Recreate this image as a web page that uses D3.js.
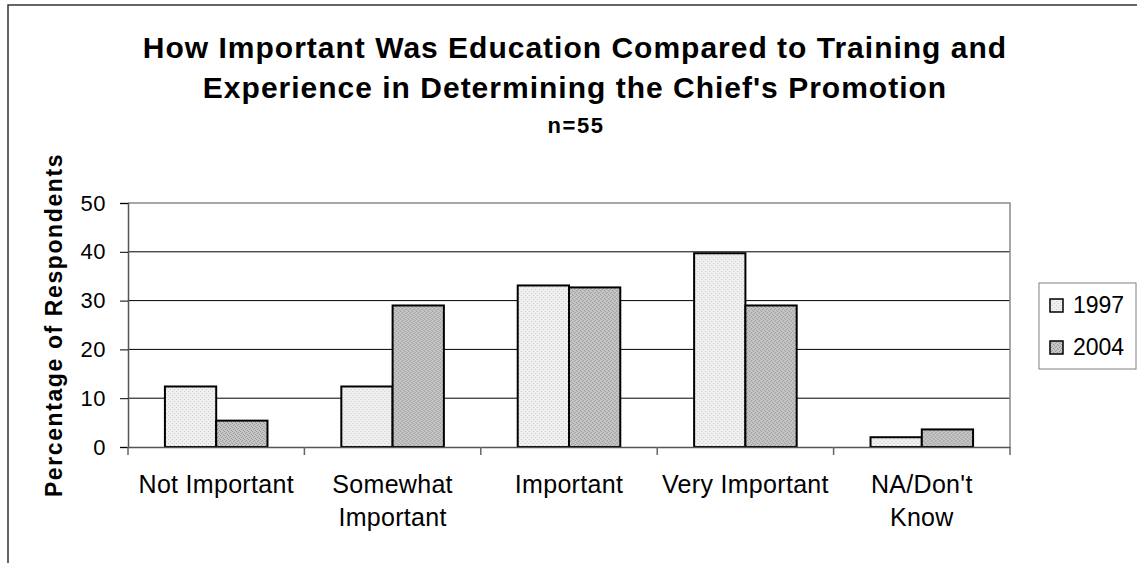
<!DOCTYPE html>
<html>
<head>
<meta charset="utf-8">
<script src="https://cdn.jsdelivr.net/npm/d3@7/dist/d3.min.js"></script>
<style>
  body { margin: 0; background: #fff; }
  svg { display: block; font-family: "Liberation Sans", Arial, sans-serif; }
</style>
</head>
<body>
<svg id="chart" width="1137" height="563"></svg>
<script>
// chart data
const categories = ["Not Important", "Somewhat Important", "Important", "Very Important", "NA/Don't Know"];
const tickLabels = [["Not Important"], ["Somewhat", "Important"], ["Important"], ["Very Important"], ["NA/Don't", "Know"]];
const seriesNames = ["1997", "2004"];
const values1997 = [12.4, 12.4, 33.1, 39.7, 2.0];
const values2004 = [5.4, 29.0, 32.7, 29.0, 3.6];
const yTicks = [0, 10, 20, 30, 40, 50];
const titleLines = ["How Important Was Education Compared to Training and",
                    "Experience in Determining the Chief's Promotion"];
const subtitle = "n=55";
const yTitle = "Percentage of Respondents";

const rows = categories.map((c, i) => ({ name: c, values: [values1997[i], values2004[i]] }));

const svg = d3.select("#chart");
const margin = { top: 203, left: 128, right: 127, bottom: 116 };
const W = 1137, H = 563;
const innerW = W - margin.left - margin.right;
const innerH = H - margin.top - margin.bottom;

// fill textures
const defs = svg.append("defs");
function stipple(id, bg, dot, cells) {
  const p = defs.append("pattern")
    .attr("id", id)
    .attr("patternUnits", "userSpaceOnUse")
    .attr("width", 4).attr("height", 4);
  p.append("rect").attr("width", 4).attr("height", 4).attr("fill", bg);
  cells.forEach(c => p.append("rect").attr("x", c[0]).attr("y", c[1])
    .attr("width", 1).attr("height", 1).attr("fill", dot));
}
stipple("fill1997", "#efefef", "#cdcdcd", [[0, 0], [2, 2]]);
stipple("fill2004", "#c6c6c6", "#989898", [[0, 0], [2, 1], [1, 2], [3, 3]]);
const fills = ["url(#fill1997)", "url(#fill2004)"];

// outer chart frame (only top/left visible in view)
svg.append("rect")
  .attr("x", 8).attr("y", 5)
  .attr("width", W + 20).attr("height", H + 20)
  .attr("fill", "none").attr("stroke", "#333").attr("stroke-width", 1.5);

// title
svg.append("g")
  .selectAll("text")
  .data(titleLines)
  .join("text")
  .attr("x", 575)
  .attr("y", (d, i) => 58 + i * 40)
  .attr("text-anchor", "middle")
  .attr("font-size", 30)
  .attr("letter-spacing", 1)
  .attr("font-weight", "bold")
  .text(d => d);

svg.append("text")
  .attr("x", 576).attr("y", 133)
  .attr("text-anchor", "middle")
  .attr("font-size", 22)
  .attr("letter-spacing", 1.5)
  .attr("font-weight", "bold")
  .text(subtitle);

const g = svg.append("g").attr("transform", `translate(${margin.left},${margin.top})`);

const x = d3.scaleBand().domain(categories).range([0, innerW]).padding(0);
const xs = d3.scaleBand().domain(seriesNames).range([0, x.bandwidth()]).paddingInner(0).paddingOuter(0.72);
const y = d3.scaleLinear().domain([0, 50]).range([innerH, 0]);

// gridlines
g.append("g")
  .selectAll("line")
  .data(yTicks.filter(t => t > 0 && t < 50))
  .join("line")
  .attr("x1", 0).attr("x2", innerW)
  .attr("y1", d => y(d)).attr("y2", d => y(d))
  .attr("stroke", "#000").attr("stroke-width", 1);

// plot area border top/right
g.append("path")
  .attr("d", `M0,0H${innerW}V${innerH}`)
  .attr("fill", "none").attr("stroke", "#8a8a8a").attr("stroke-width", 1.5);

// y axis
const yAxis = g.append("g")
  .call(d3.axisLeft(y).tickValues(yTicks).tickSize(8).tickPadding(14));
yAxis.select(".domain").attr("stroke", "#555").attr("stroke-width", 1.5);
yAxis.selectAll(".tick line").attr("stroke", "#000");
yAxis.selectAll("text")
  .attr("font-size", 22)
  .attr("letter-spacing", 0.5)
  .attr("font-family", "Liberation Sans, Arial, sans-serif")
  .attr("fill", "#000");

// bars
const groups = g.append("g")
  .selectAll("g")
  .data(rows)
  .join("g")
  .attr("transform", d => `translate(${x(d.name)},0)`);

groups.selectAll("rect")
  .data(d => d.values.map((v, i) => ({ key: seriesNames[i], value: v, i })))
  .join("rect")
  .attr("x", d => xs(d.key))
  .attr("y", d => y(d.value))
  .attr("width", xs.bandwidth())
  .attr("height", d => innerH - y(d.value))
  .attr("fill", d => fills[d.i])
  .attr("stroke", "#000")
  .attr("stroke-width", 2);

// x axis
const xAxis = g.append("g")
  .attr("transform", `translate(0,${innerH})`)
  .call(d3.axisBottom(x).tickSize(0).tickPadding(28));
xAxis.select(".domain").attr("stroke", "#555").attr("stroke-width", 1.5);
xAxis.selectAll("text")
  .attr("font-size", 25)
  .attr("letter-spacing", 0.3)
  .attr("font-family", "Liberation Sans, Arial, sans-serif")
  .attr("fill", "#000")
  .each(function (d, i) {
    const t = d3.select(this);
    const yy = t.attr("y");
    t.text(null)
      .selectAll("tspan")
      .data(tickLabels[i])
      .join("tspan")
      .attr("x", 0)
      .attr("y", yy)
      .attr("dy", (s, k) => (0.71 + k * 1.32) + "em")
      .text(s => s);
  });

// boundary ticks
g.append("g")
  .selectAll("line")
  .data(categories.map(c => x(c)).concat([innerW]))
  .join("line")
  .attr("x1", d => d).attr("x2", d => d)
  .attr("y1", innerH).attr("y2", innerH + 8)
  .attr("stroke", "#666").attr("stroke-width", 1.5);

// y axis title
svg.append("text")
  .attr("transform", `translate(62,${margin.top + innerH / 2}) rotate(-90)`)
  .attr("text-anchor", "middle")
  .attr("font-size", 23)
  .attr("letter-spacing", 1.6)
  .attr("font-weight", "bold")
  .text(yTitle);

// legend
const legend = svg.append("g").attr("transform", "translate(1039,283)");
legend.append("rect")
  .attr("width", 97).attr("height", 86)
  .attr("fill", "#fff").attr("stroke", "#808080").attr("stroke-width", 1);
const li = legend.selectAll("g")
  .data(seriesNames)
  .join("g")
  .attr("transform", (d, i) => `translate(11,${16 + i * 42})`);
li.append("rect")
  .attr("width", 13).attr("height", 13)
  .attr("fill", (d, i) => fills[i])
  .attr("stroke", "#000").attr("stroke-width", 1.5);
li.append("text")
  .attr("x", 23).attr("y", 14)
  .attr("font-size", 23)
  .text(d => d);
</script>
</body>
</html>
